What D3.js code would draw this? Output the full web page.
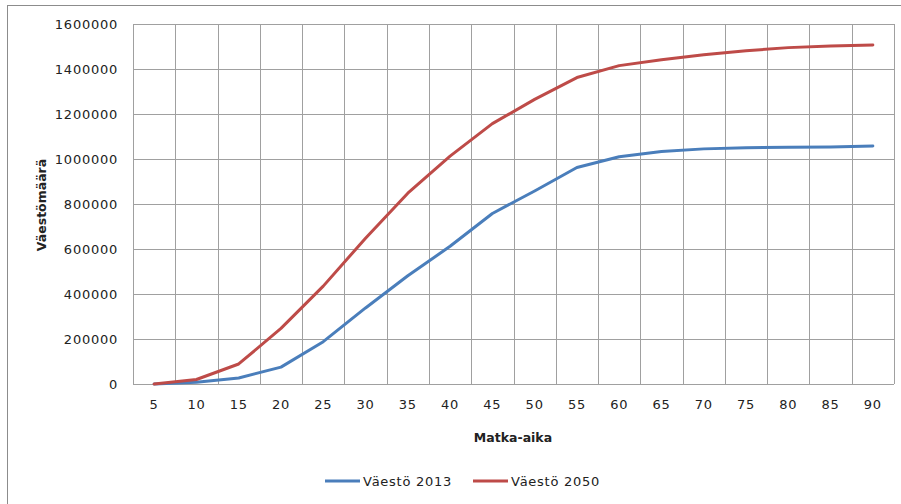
<!DOCTYPE html>
<html>
<head>
<meta charset="utf-8">
<script src="https://cdn.jsdelivr.net/npm/d3@7"></script>
<style>
  html, body { margin: 0; padding: 0; background: #fff; }
  svg { display: block; font-family: "DejaVu Sans", Verdana, sans-serif; }
</style>
</head>
<body>
<svg id="chart" width="901" height="504"></svg>
<script>
// Travel time (minutes) and cumulative population reachable
const categories = [5, 10, 15, 20, 25, 30, 35, 40, 45, 50, 55, 60, 65, 70, 75, 80, 85, 90];
const pop2013 = [0, 8000, 27000, 75000, 188000, 338000, 481000, 612000, 758000, 858000, 962000, 1010000, 1033000, 1045000, 1050000, 1052000, 1053000, 1058000];
const pop2050 = [0, 20000, 89000, 247000, 435000, 648000, 848000, 1013000, 1157000, 1265000, 1362000, 1415000, 1441000, 1463000, 1481000, 1495000, 1502000, 1507000];
const yTicks = [0, 200000, 400000, 600000, 800000, 1000000, 1200000, 1400000, 1600000];
const seriesNames = ["Väestö 2013", "Väestö 2050"];
const seriesColors = ["#4A7EBB", "#BE4B48"];

const svg = d3.select("#chart");
const plot = { left: 133, top: 24, right: 894, bottom: 384 };

// Outer chart frame
svg.append("rect")
  .attr("x", 7.5).attr("y", 5.5)
  .attr("width", 901).attr("height", 510)
  .attr("fill", "none").attr("stroke", "#8c8c8c").attr("stroke-width", 1);

const x = d3.scaleBand().domain(categories).range([plot.left, plot.right]);
const y = d3.scaleLinear().domain([0, 1600000]).range([plot.bottom, plot.top]);

const grid = svg.append("g").attr("stroke", "#a0a0a0").attr("stroke-width", 1);
// Horizontal gridlines
grid.selectAll("line.h").data(yTicks).join("line")
  .attr("class", "h")
  .attr("x1", plot.left).attr("x2", plot.right)
  .attr("y1", d => Math.round(y(d)) + 0.5).attr("y2", d => Math.round(y(d)) + 0.5);
// Vertical gridlines at category boundaries
const bounds = categories.map(c => x(c)).concat([plot.right]);
grid.selectAll("line.v").data(bounds).join("line")
  .attr("class", "v")
  .attr("x1", d => Math.round(d) + 0.5).attr("x2", d => Math.round(d) + 0.5)
  .attr("y1", plot.top).attr("y2", plot.bottom);

// Y axis labels
const yAxis = d3.axisLeft(y).tickValues(yTicks).tickSize(0).tickPadding(0).tickFormat(d3.format("d"));
const yg = svg.append("g").attr("transform", `translate(${plot.left - 15},0)`).call(yAxis);
yg.select(".domain").remove();
yg.selectAll("text").attr("font-size", 13).attr("fill", "#222")
  .attr("font-family", "DejaVu Sans, sans-serif").attr("letter-spacing", 0.75);

// X axis labels
const xAxis = d3.axisBottom(x).tickSize(0).tickPadding(0);
const xg = svg.append("g").attr("transform", `translate(0,${plot.bottom + 16})`).call(xAxis);
xg.select(".domain").remove();
xg.selectAll("text").attr("font-size", 13).attr("fill", "#222")
  .attr("font-family", "DejaVu Sans, sans-serif").attr("letter-spacing", 0.75);

// Axis titles
svg.append("text")
  .attr("x", 513).attr("y", 442)
  .attr("text-anchor", "middle").attr("font-size", 12.5).attr("font-weight", "bold").attr("fill", "#222")
  .text("Matka-aika");
svg.append("text")
  .attr("transform", "translate(46,205) rotate(-90)")
  .attr("text-anchor", "middle").attr("font-size", 12.5).attr("font-weight", "bold").attr("fill", "#222")
  .text("Väestömäärä");

// Lines
const line = d3.line()
  .x((d, i) => x(categories[i]) + x.bandwidth() / 2)
  .y(d => y(d));
[pop2013, pop2050].forEach((vals, i) => {
  svg.append("path")
    .datum(vals)
    .attr("d", line)
    .attr("fill", "none")
    .attr("stroke", seriesColors[i])
    .attr("stroke-width", 3)
    .attr("stroke-linejoin", "round")
    .attr("stroke-linecap", "round");
});

// Legend
const legendX = [325, 473];
seriesNames.forEach((name, i) => {
  const g = svg.append("g").attr("transform", `translate(${legendX[i]},481)`);
  g.append("line").attr("x1", 0).attr("x2", 35).attr("y1", 0).attr("y2", 0)
    .attr("stroke", seriesColors[i]).attr("stroke-width", 3);
  g.append("text").attr("x", 38).attr("y", 5).attr("font-size", 13)
    .attr("letter-spacing", 0.75).attr("fill", "#222").text(name);
});
</script>
</body>
</html>
